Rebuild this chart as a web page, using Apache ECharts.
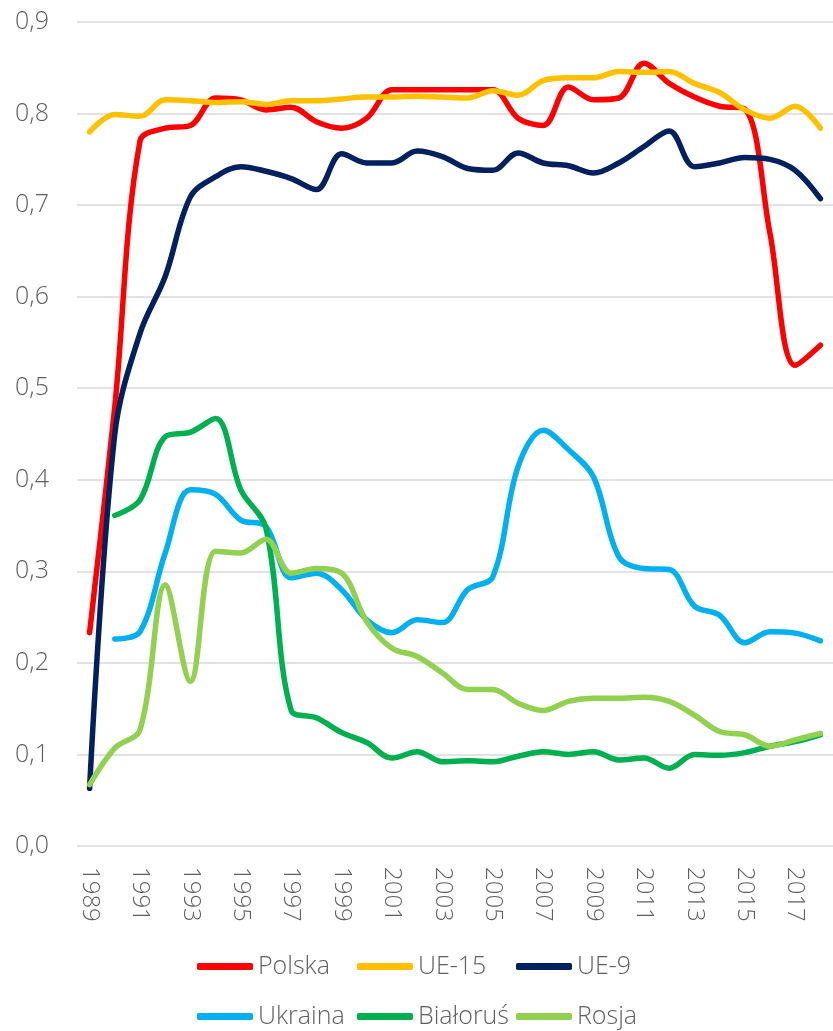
<!DOCTYPE html>
<html>
<head>
<meta charset="utf-8">
<script src="https://cdn.jsdelivr.net/npm/echarts@6/dist/echarts.min.js"></script>
<style>
html,body{margin:0;padding:0;background:#fff;}
#chart{width:833px;height:1031px;}
</style>
</head>
<body>
<div id="chart"></div>
<script>
const years = ['1989','1990','1991','1992','1993','1994','1995','1996','1997','1998','1999','2000','2001','2002','2003','2004','2005','2006','2007','2008','2009','2010','2011','2012','2013','2014','2015','2016','2017','2018'];
const yTickLabels = ['0,0','0,1','0,2','0,3','0,4','0,5','0,6','0,7','0,8','0,9'];
const seriesNames = ['Polska','UE-15','UE-9','Ukraina','Białoruś','Rosja'];
const seriesColors = ['#FF0000','#FFC000','#002060','#00B0F0','#00B050','#92D050'];

const polska   = [0.233,0.48,0.770,0.784,0.787,0.817,0.815,0.804,0.807,0.791,0.784,0.795,0.826,0.826,0.826,0.826,0.826,0.795,0.787,0.829,0.815,0.817,0.855,0.833,0.818,0.808,0.805,0.669,0.525,0.547];
const ue15     = [0.780,0.799,0.797,0.815,0.814,0.812,0.813,0.810,0.814,0.814,0.816,0.818,0.818,0.819,0.818,0.817,0.825,0.820,0.836,0.839,0.839,0.846,0.845,0.846,0.833,0.823,0.804,0.795,0.808,0.784];
const ue9      = [0.063,0.45,0.560,0.622,0.709,0.731,0.742,0.737,0.729,0.717,0.756,0.746,0.746,0.759,0.753,0.740,0.738,0.757,0.746,0.743,0.735,0.746,0.764,0.781,0.742,0.746,0.752,0.750,0.738,0.707];
const ukraina  = [null,0.226,0.234,0.320,0.389,0.384,0.356,0.349,0.293,0.298,0.280,0.247,0.233,0.247,0.244,0.280,0.294,0.414,0.454,0.433,0.403,0.316,0.303,0.302,0.262,0.252,0.222,0.234,0.2325,0.224];
const bialorus = [null,0.361,0.378,0.447,0.452,0.467,0.389,0.347,0.148,0.140,0.124,0.113,0.096,0.103,0.092,0.093,0.092,0.098,0.103,0.100,0.103,0.094,0.096,0.085,0.100,0.099,0.102,0.109,0.114,0.1215];
const rosja    = [0.067,0.107,0.127,0.285,0.180,0.322,0.320,0.335,0.298,0.303,0.298,0.245,0.216,0.207,0.189,0.171,0.171,0.156,0.148,0.158,0.1615,0.1615,0.1625,0.158,0.143,0.125,0.1215,0.109,0.116,0.123];

const seriesData = [polska, ue15, ue9, ukraina, bialorus, rosja];

const FONT = "'Open Sans', 'DejaVu Sans', sans-serif";
const TEXT_COLOR = '#5f5f5f';

const legendPos = [
  {left:197, top:954}, {left:357, top:954}, {left:516, top:954},
  {left:197, top:1004}, {left:357, top:1004}, {left:516, top:1004}
];

const chart = echarts.init(document.getElementById('chart'), null, {renderer:'canvas'});
chart.setOption({
  backgroundColor:'#ffffff',
  animation:false,
  grid:{left:77, right:0, top:22, bottom:185, containLabel:false, outerBoundsMode:'none'},
  xAxis:{
    type:'category',
    data:years,
    boundaryGap:true,
    axisLine:{show:false},
    axisTick:{show:false},
    axisLabel:{interval:1, rotate:-90, margin:21, color:TEXT_COLOR, fontFamily:FONT, fontWeight:300, fontSize:24}
  },
  yAxis:{
    type:'value',
    min:0, max:0.9, interval:0.1,
    axisLine:{show:false},
    axisTick:{show:false},
    splitLine:{lineStyle:{color:'#D9D9D9', width:1.5}},
    axisLabel:{
      margin:28, color:TEXT_COLOR, fontFamily:FONT, fontWeight:300, fontSize:25,
      formatter:function(v){ return yTickLabels[Math.round(v*10)]; }
    }
  },
  legend: seriesNames.map(function(n,i){
    return {
      data:[n], left:legendPos[i].left, top:legendPos[i].top, padding:0,
      icon:'roundRect', itemWidth:56, itemHeight:7,
      textStyle:{color:TEXT_COLOR, fontFamily:FONT, fontWeight:300, fontSize:25}
    };
  }),
  series: seriesNames.map(function(n,i){
    return {
      name:n, type:'line', data:seriesData[i],
      color:seriesColors[i],
      smooth:0.35, showSymbol:false, symbol:'none',
      lineStyle:{width:5.5, color:seriesColors[i], cap:'round', join:'round'}
    };
  })
});
</script>
</body>
</html>
